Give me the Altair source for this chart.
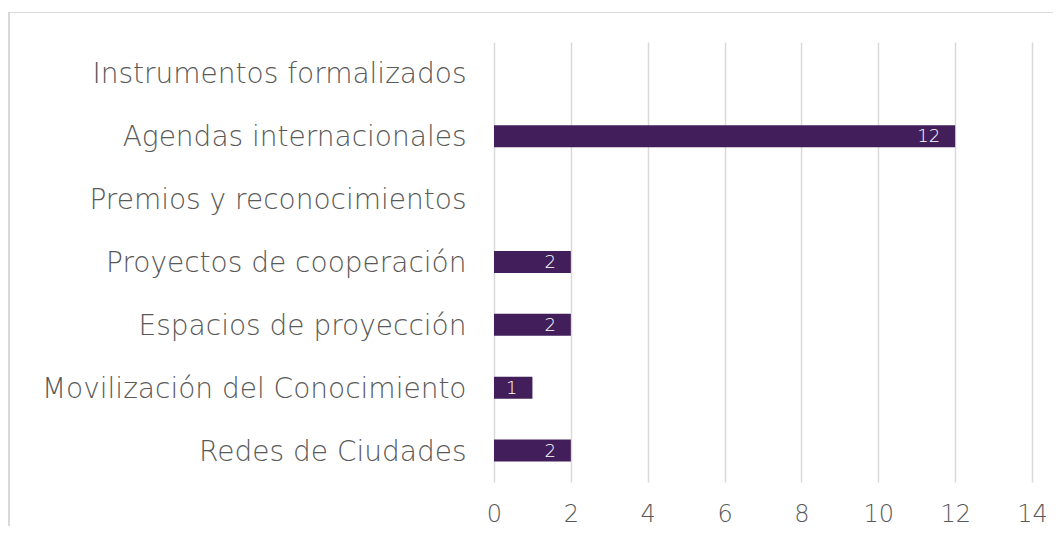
import altair as alt
import pandas as pd

categories = [
    "Instrumentos formalizados",
    "Agendas internacionales",
    "Premios y reconocimientos",
    "Proyectos de cooperación",
    "Espacios de proyección",
    "Movilización del Conocimiento",
    "Redes de Ciudades",
]
values = [0, 12, 0, 2, 2, 1, 2]
x_ticks = [0, 2, 4, 6, 8, 10, 12, 14]

df = pd.DataFrame({"cat": categories, "val": values})

FONT = "DejaVu Sans"
BAR = "#421f5a"

y_scale = alt.Scale(domain=categories, paddingInner=0.65, paddingOuter=0.325)

y_enc = alt.Y(
    "cat:N",
    sort=categories,
    title=None,
    scale=y_scale,
    axis=alt.Axis(
        domain=False, ticks=False, grid=False,
        labelFont=FONT, labelFontSize=28, labelFontWeight=300,
        labelColor="#595959", labelPadding=28, labelLimit=600, labelOffset=2,
    ),
)
x_enc = alt.X(
    "val:Q",
    title=None,
    scale=alt.Scale(domain=[0, 14], nice=False),
    axis=alt.Axis(
        values=x_ticks, domain=False, ticks=False, grid=True,
        gridColor="#d9d9d9", gridWidth=1.5,
        labelFont=FONT, labelFontSize=24, labelFontWeight=300,
        labelColor="#595959", labelPadding=20, labelFlush=False,
    ),
)

bars = alt.Chart(df).mark_bar(color=BAR).encode(x=x_enc, y=y_enc).transform_filter("datum.val > 0")

labels = alt.Chart(df).mark_text(
    align="right", baseline="middle", dx=-15, dy=1, color="white",
    font=FONT, fontSize=18, fontWeight=300,
).encode(
    x="val:Q", y=alt.Y("cat:N", sort=categories, scale=y_scale), text="val:Q"
).transform_filter("datum.val > 0")

frame_top = alt.Chart(df).mark_rule(color="#d9d9d9", strokeWidth=1.2).encode(
    x=alt.value(-485), x2=alt.value(560), y=alt.value(-29.5)
)
frame_left = alt.Chart(df).mark_rule(color="#d9d9d9", strokeWidth=1.2).encode(
    x=alt.value(-485), y=alt.value(-29.5), y2=alt.value(500)
)

chart = alt.layer(frame_top, frame_left, bars, labels).properties(
    width=538, height=440,
    autosize=alt.AutoSizeParams(type="none"),
    padding={"left": 486, "top": 34, "right": 21, "bottom": 44},
).configure_view(stroke=None)

chart.save("out.html", embed_options={"renderer": "svg", "actions": False})
